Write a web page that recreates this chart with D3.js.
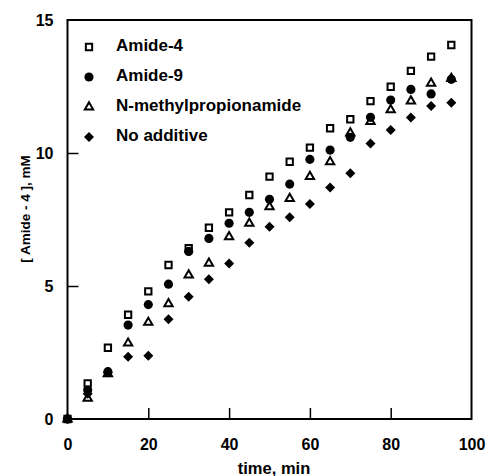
<!DOCTYPE html>
<html>
<head>
<meta charset="utf-8">
<script src="https://cdn.jsdelivr.net/npm/d3@7"></script>
<style>
  body { margin: 0; background: #fff; }
  text { font-family: "Liberation Sans", Arial, sans-serif; }
</style>
</head>
<body>
<svg width="488" height="476"></svg>
<script>
const time = [0, 5, 10, 15, 20, 25, 30, 35, 40, 45, 50, 55, 60, 65, 70, 75, 80, 85, 90, 95];
const amide4 = [0, 1.34, 2.68, 3.92, 4.8, 5.79, 6.42, 7.19, 7.77, 8.42, 9.11, 9.67, 10.2, 10.93, 11.27, 11.95, 12.49, 13.09, 13.62, 14.06];
const amide9 = [0, 1.09, 1.78, 3.53, 4.3, 5.07, 6.3, 6.79, 7.36, 7.77, 8.26, 8.83, 9.76, 10.11, 10.59, 11.34, 11.99, 12.39, 12.22, 12.77];
const nmp = [0, 0.78, 1.7, 2.85, 3.63, 4.33, 5.41, 5.85, 6.85, 7.36, 7.98, 8.29, 9.11, 9.67, 10.75, 11.18, 11.62, 11.95, 12.62, 12.8];
const noAdditive = [0, 0.95, 1.75, 2.34, 2.38, 3.75, 4.6, 5.25, 5.85, 6.63, 7.23, 7.58, 8.08, 8.7, 9.24, 10.36, 10.86, 11.33, 11.77, 11.89];
const seriesNames = ["Amide-4", "Amide-9", "N-methylpropionamide", "No additive"];
const xTicks = [0, 20, 40, 60, 80, 100];
const yTicks = [0, 5, 10, 15];

const svg = d3.select("svg");
const x = d3.scaleLinear([0, 100], [67.5, 471.5]);
const y = d3.scaleLinear([0, 15], [419, 20]);

// marker styles per series
const styles = [
  {name: seriesNames[3], vals: noAdditive, type: d3.symbolSquare, size: 50, rot: 45, fill: "black", stroke: "none"},
  {name: seriesNames[2], vals: nmp, type: d3.symbolTriangle, size: 30, rot: 0, fill: "none", stroke: "black"},
  {name: seriesNames[1], vals: amide9, type: d3.symbolCircle, size: 66, rot: 0, fill: "black", stroke: "none"},
  {name: seriesNames[0], vals: amide4, type: d3.symbolSquare, size: 40, rot: 0, fill: "none", stroke: "black"}
];

// frame
svg.append("rect")
  .attr("x", x(0)).attr("y", y(15))
  .attr("width", x(100) - x(0)).attr("height", y(0) - y(15))
  .attr("fill", "none").attr("stroke", "black").attr("stroke-width", 2);

// axes with inward ticks
const gx = svg.append("g")
  .attr("transform", "translate(0," + y(0) + ")")
  .call(d3.axisBottom(x).tickValues(xTicks).tickSize(-11).tickPadding(20).tickFormat(d3.format("d")));
gx.select(".domain").remove();
gx.selectAll(".tick line").attr("stroke-width", 1.5)
  .filter(d => d === 0 || d === 100).remove();
gx.selectAll("text").attr("font-size", 16).attr("font-weight", "bold");

const gy = svg.append("g")
  .attr("transform", "translate(" + x(0) + ",0)")
  .call(d3.axisLeft(y).tickValues(yTicks).tickSize(-11).tickPadding(14).tickFormat(d3.format("d")));
gy.select(".domain").remove();
gy.selectAll(".tick line").attr("stroke-width", 1.5)
  .filter(d => d === 0 || d === 15).remove();
gy.selectAll("text").attr("font-size", 16).attr("font-weight", "bold");

// axis titles
svg.append("text")
  .attr("x", 274).attr("y", 474)
  .attr("text-anchor", "middle")
  .attr("font-size", 16.5).attr("font-weight", "bold")
  .text("time, min");

svg.append("text")
  .attr("transform", "translate(26,209) rotate(-90)")
  .attr("text-anchor", "middle")
  .attr("dominant-baseline", "middle")
  .attr("font-size", 13.5).attr("font-weight", "bold")
  .text("[ Amide - 4 ], mM");

// points
styles.forEach(s => {
  const sym = d3.symbol().type(s.type).size(s.size);
  svg.append("g").selectAll("path")
    .data(time.map((t, i) => ({t: t, v: s.vals[i]})))
    .enter().append("path")
    .attr("d", sym)
    .attr("transform", d => "translate(" + x(d.t) + "," + y(d.v) + ") rotate(" + s.rot + ")")
    .attr("fill", s.fill)
    .attr("stroke", s.stroke)
    .attr("stroke-width", 2);
});

// legend
const legendOrder = [3, 2, 1, 0];
legendOrder.forEach((k, i) => {
  const s = styles[k];
  const ly = 47 + i * 30;
  svg.append("path")
    .attr("d", d3.symbol().type(s.type).size(s.size))
    .attr("transform", "translate(89," + ly + ") rotate(" + s.rot + ")")
    .attr("fill", s.fill).attr("stroke", s.stroke).attr("stroke-width", 2);
  svg.append("text")
    .attr("x", 116).attr("y", ly)
    .attr("dominant-baseline", "middle")
    .attr("font-size", 17).attr("font-weight", "bold")
    .text(s.name);
});
</script>
</body>
</html>
